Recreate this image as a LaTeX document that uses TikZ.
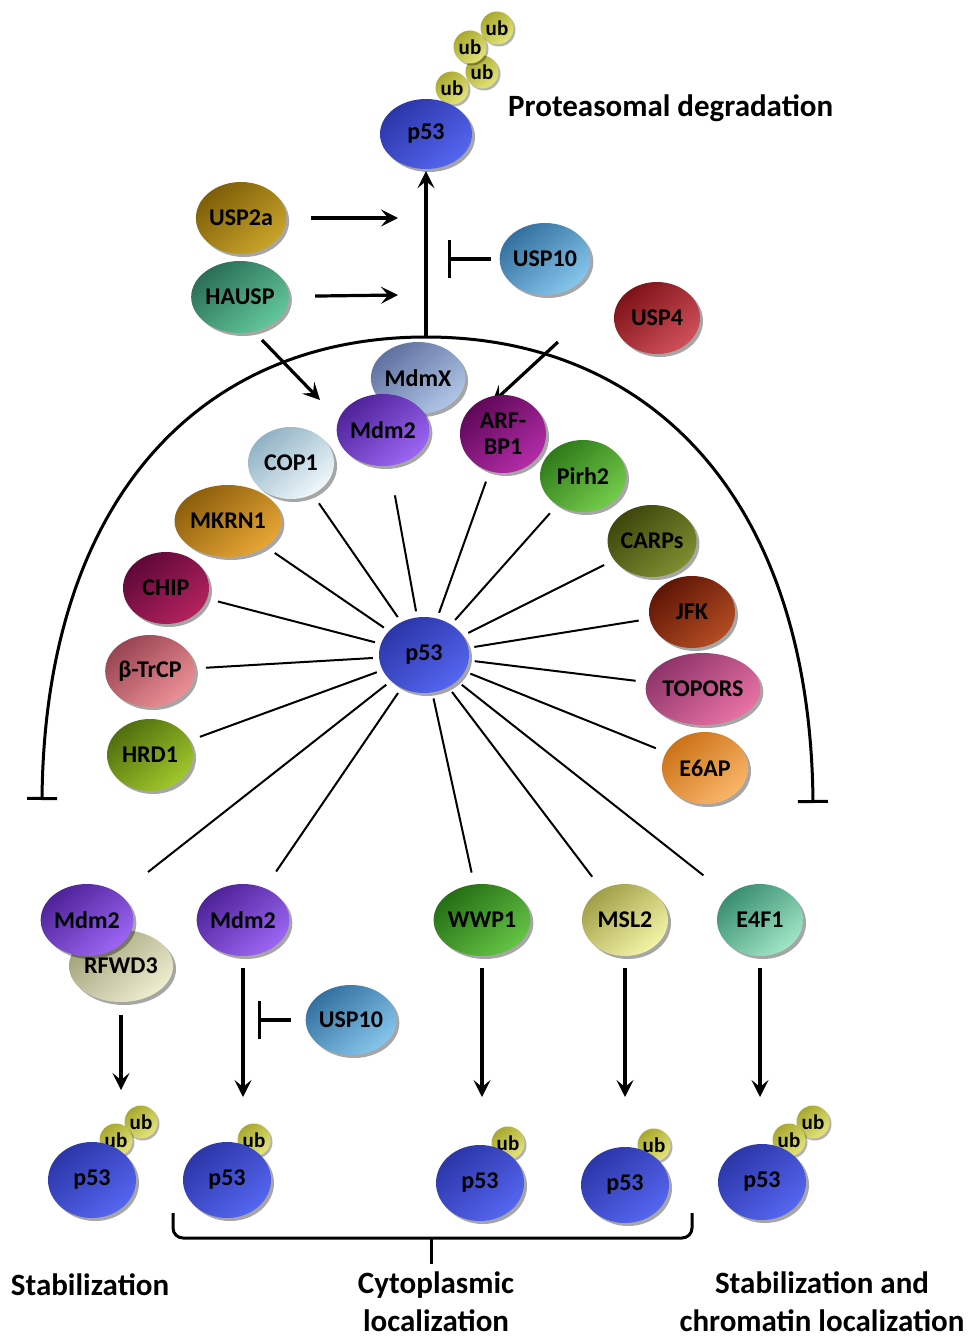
\documentclass[tikz,border=0pt]{standalone}
\usepackage{fontspec}
\setmainfont{Carlito}
\usetikzlibrary{shapes.geometric,arrows.meta,shadows,calc}
\definecolor{pD}{HTML}{2B36A8}\definecolor{pL}{HTML}{5566F0}
\definecolor{ubD}{HTML}{A8A830}\definecolor{ubL}{HTML}{E4E47A}
\definecolor{usp2D}{HTML}{7E5E08}\definecolor{usp2L}{HTML}{C9A42A}
\definecolor{hauD}{HTML}{2A6E56}\definecolor{hauL}{HTML}{63C79A}
\definecolor{u10D}{HTML}{33709F}\definecolor{u10L}{HTML}{86C6EC}
\definecolor{u4D}{HTML}{7E1218}\definecolor{u4L}{HTML}{D0505A}
\definecolor{mxD}{HTML}{6070A0}\definecolor{mxL}{HTML}{B0C6E6}
\definecolor{m2D}{HTML}{4E2298}\definecolor{m2L}{HTML}{9C66F4}
\definecolor{arD}{HTML}{5E0858}\definecolor{arL}{HTML}{B42CA8}
\definecolor{copD}{HTML}{90B2C4}\definecolor{copL}{HTML}{F0F8FC}
\definecolor{piD}{HTML}{2F7A1A}\definecolor{piL}{HTML}{74CC4A}
\definecolor{mkD}{HTML}{8C5E0C}\definecolor{mkL}{HTML}{E8A634}
\definecolor{caD}{HTML}{3E460C}\definecolor{caL}{HTML}{7E8E30}
\definecolor{chD}{HTML}{5E0838}\definecolor{chL}{HTML}{B4225E}
\definecolor{jfD}{HTML}{5E1606}\definecolor{jfL}{HTML}{B44C22}
\definecolor{btD}{HTML}{984452}\definecolor{btL}{HTML}{EC9096}
\definecolor{toD}{HTML}{8E346A}\definecolor{toL}{HTML}{E872A4}
\definecolor{hrD}{HTML}{506E0E}\definecolor{hrL}{HTML}{A0C82C}
\definecolor{e6D}{HTML}{CC7218}\definecolor{e6L}{HTML}{FAB66A}
\definecolor{rfD}{HTML}{A0A07A}\definecolor{rfL}{HTML}{EEEED0}
\definecolor{wwD}{HTML}{246E14}\definecolor{wwL}{HTML}{64C444}
\definecolor{msD}{HTML}{A0A048}\definecolor{msL}{HTML}{F4F4A8}
\definecolor{e4D}{HTML}{3A8E70}\definecolor{e4L}{HTML}{A0E6C6}
\newcommand{\lblfont}{\fontsize{24}{24}\selectfont\bfseries}
\newcommand{\ubfont}{\fontsize{21}{21}\selectfont\bfseries}
\newcommand{\capfont}{\fontsize{31}{38}\selectfont\bfseries}
\tikzset{
  shc/.style 2 args={top color=#1, bottom color=#2, shading angle=40},
  mol/.style={ellipse, inner sep=0pt, minimum width=86pt, minimum height=72pt,
    font=\lblfont, text=black, align=center,
    drop shadow={shadow xshift=3pt, shadow yshift=-3pt, opacity=0.35, fill=black}},
  ubb/.style={circle, inner sep=0pt, minimum size=33pt, shc={ubD}{ubL},
    font=\ubfont, text=black,
    drop shadow={shadow xshift=2pt, shadow yshift=-2pt, opacity=0.3, fill=black}},
  spoke/.style={line width=2pt, shorten <=6pt, shorten >=#1},
  spoke/.default=11pt,
  arr/.style={line width=3.2pt, -{Stealth[length=17pt,width=17pt,inset=7pt]}},
  inh/.style={line width=3.2pt, -{Bar[width=38pt]}},
  arcline/.style={line width=3pt, {Bar[width=30pt]}-{Bar[width=30pt]}},
  brc/.style={line width=3pt, rounded corners=10pt},
  captxt/.style={font=\capfont, align=center, inner sep=0pt},
}
\begin{document}
\begin{tikzpicture}[x=1pt,y=-1pt]
\useasboundingbox (0,0) rectangle (971,1343);
\fill[white] (0,0) rectangle (971,1343);
% ---- top: proteasomal degradation
\node[ubb] (u4) at (497,28) {ub};
\node[ubb] (u2) at (482,72) {ub};
\node[ubb] (u3) at (470,47) {ub};
\node[ubb] (u1) at (452,88) {ub};
\node[mol, shc={pD}{pL}, minimum width=92pt, minimum height=70pt] (pT) at (426,134) {p53};
\node[font=\fontsize{31}{31}\selectfont\bfseries, anchor=west, inner sep=0pt] (prot) at (508,108) {Proteasomal degradation};
% ---- regulators outside
\node[mol, shc={usp2D}{usp2L}] (USP2a) at (241,218) {USP2a};
\node[mol, shc={hauD}{hauL}] (HAUSP) at (240,297) {HAUSP};
\node[mol, shc={u10D}{u10L}] (USP10t) at (545,259) {USP10};
\node[mol, shc={u4D}{u4L}] (USP4) at (657,318) {USP4};
\coordinate (apex) at (426,337);
\coordinate (aA) at (398,218);
\coordinate (aH) at (398,295);
\coordinate (iT) at (448,259);
\coordinate (sH) at (262,340);
\coordinate (eH) at (320,400);
\coordinate (s4) at (558,342);
\coordinate (e4) at (492,403);
\coordinate (aL) at (42,800);
\coordinate (aR) at (813,803);
\draw[arr, shorten >=2pt] (apex) -- (pT);
\draw[arr, shorten <=25pt] (USP2a) -- (aA);
\draw[arr, shorten <=26pt] (HAUSP) -- (aH);
\draw[inh, shorten <=8pt] (USP10t) -- (iT);
\draw[arcline] (aL) .. controls (45,500) and (200,337) .. (apex)
  .. controls (652,337) and (810,500) .. (aR);
\draw[arr] (sH) -- (eH);
\draw[arr] (s4) -- (e4);
% ---- inner ring
\node[mol, shc={pD}{pL}, minimum width=90pt, minimum height=76pt] (c) at (424,655) {p53};
\node[mol, shc={mxD}{mxL}] (MdmX) at (418,378) {MdmX};
\node[mol, shc={m2D}{m2L}] (Mdm2t) at (383,430) {Mdm2};
\node[mol, shc={arD}{arL}, minimum height=78pt] (ARFBP1) at (503,434) {ARF-\\[2pt]BP1};
\node[mol, shc={copD}{copL}] (COP1) at (291,463) {COP1};
\node[mol, shc={piD}{piL}] (Pirh2) at (583,476) {Pirh2};
\node[mol, shc={mkD}{mkL}] (MKRN1) at (228,521) {MKRN1};
\node[mol, shc={caD}{caL}] (CARPs) at (652,541) {CARPs};
\node[mol, shc={chD}{chL}] (CHIP) at (166,588) {CHIP};
\node[mol, shc={jfD}{jfL}] (JFK) at (692,612) {JFK};
\node[mol, shc={btD}{btL}] (bTrCP) at (150,671) {β-TrCP};
\node[mol, shc={toD}{toL}] (TOPORS) at (703,689) {TOPORS};
\node[mol, shc={hrD}{hrL}] (HRD1) at (150,755) {HRD1};
\node[mol, shc={e6D}{e6L}] (E6AP) at (705,768) {E6AP};
% ---- bottom row
\node[mol, shc={rfD}{rfL}] (RFWD3) at (121,966) {RFWD3};
\node[mol, shc={m2D}{m2L}] (Mdm2l) at (87,920) {Mdm2};
\node[mol, shc={m2D}{m2L}] (Mdm2b) at (243,920) {Mdm2};
\node[mol, shc={wwD}{wwL}] (WWP1) at (482,920) {WWP1};
\node[mol, shc={msD}{msL}] (MSL2) at (625,920) {MSL2};
\node[mol, shc={e4D}{e4L}] (E4F1) at (760,920) {E4F1};
\node[mol, shc={u10D}{u10L}, minimum width=82pt, minimum height=70pt] (USP10b) at (351,1020) {USP10};
% spokes
\foreach \n/\s in {COP1/11pt, Mdm2t/30pt, ARFBP1/11pt, Pirh2/11pt, MKRN1/11pt,
  CARPs/11pt, CHIP/11pt, JFK/11pt, bTrCP/11pt, TOPORS/11pt, HRD1/11pt,
  E6AP/11pt, Mdm2l/36pt, Mdm2b/20pt, WWP1/12pt, MSL2/16pt, E4F1/32pt}
  \draw[spoke=\s] (c) -- (\n);
% bottom arrows
\coordinate (t1) at (121,1090);
\coordinate (t2) at (243,1097);
\coordinate (t3) at (482,1097);
\coordinate (t4) at (625,1097);
\coordinate (t5) at (760,1097);
\coordinate (iB) at (258,1020);
\draw[arr, shorten <=13pt] (RFWD3) -- (t1);
\draw[arr, shorten <=12pt] (Mdm2b) -- (t2);
\draw[arr, shorten <=12pt] (WWP1) -- (t3);
\draw[arr, shorten <=12pt] (MSL2) -- (t4);
\draw[arr, shorten <=12pt] (E4F1) -- (t5);
\draw[inh, shorten <=14pt] (USP10b) -- (iB);
% bottom p53 with ubiquitin
\node[ubb] (b1b) at (141,1122) {ub};
\node[ubb] (b1a) at (116,1140) {ub};
\node[ubb] (b2a) at (254,1140) {ub};
\node[ubb] (b3a) at (508,1143) {ub};
\node[ubb] (b4a) at (654,1145) {ub};
\node[ubb] (b5b) at (813,1122) {ub};
\node[ubb] (b5a) at (789,1140) {ub};
\node[mol, shc={pD}{pL}, minimum width=88pt, minimum height=76pt] (p1) at (92,1180) {p53};
\node[mol, shc={pD}{pL}, minimum width=88pt, minimum height=76pt] (p2) at (227,1180) {p53};
\node[mol, shc={pD}{pL}, minimum width=88pt, minimum height=76pt] (p3) at (480,1183) {p53};
\node[mol, shc={pD}{pL}, minimum width=88pt, minimum height=76pt] (p4) at (625,1185) {p53};
\node[mol, shc={pD}{pL}, minimum width=88pt, minimum height=76pt] (p5) at (762,1182) {p53};
% brace
\coordinate (brL) at (173,1213);
\coordinate (brR) at (692,1213);
\coordinate (brM) at (431,1238);
\coordinate (brT) at (431,1264);
\draw[brc] (brL) |- (brM);
\draw[brc] (brR) |- (brM);
\draw[line width=3pt] (brM) -- (brT);
% captions
\node[captxt] (capS) at (90,1285) {Stabilization};
\node[captxt] (capC) at (436,1302) {Cytoplasmic\\localization};
\node[captxt] (capSC) at (822,1302) {Stabilization and\\chromatin localization};
\end{tikzpicture}
\end{document}
